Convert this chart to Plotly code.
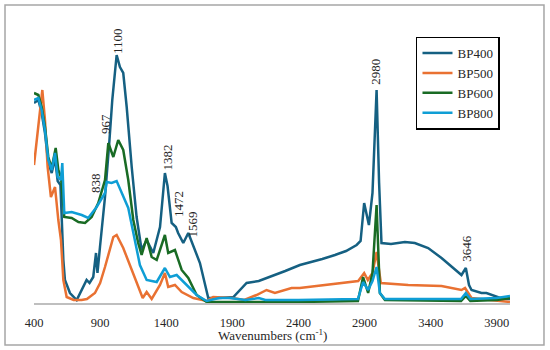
import plotly.graph_objects as go

# ---- data (heights in arbitrary absorbance units) ----
bp400_x = [400, 433, 458, 483, 508, 534, 559, 579, 600, 609, 622, 634, 672, 723, 761, 798, 820, 848, 869, 880, 899,
           937, 967, 992, 1025, 1050, 1075, 1101, 1139, 1176, 1214, 1252, 1302, 1353, 1390, 1410, 1441, 1473, 1490,
           1529, 1567, 1592, 1655, 1718, 1800, 1908, 2008, 2100, 2184, 2222, 2300, 2411, 2474, 2580, 2676, 2760, 2840,
           2870, 2897, 2933, 2960, 2991, 3010, 3028, 3100, 3205, 3280, 3381, 3482, 3583, 3633, 3666, 3690, 3709,
           3784, 3822, 3900, 3948, 4000]
bp400_y = [200, 203, 190, 170, 140, 130, 145, 122, 118, 86, 43, 23, 10, 3, 13, 23, 20, 26, 50, 30, 56,
           106, 156, 203, 248, 236, 230, 196, 136, 86, 53, 63, 50, 76, 130, 117, 80, 76, 70,
           60, 70, 61, 40, 5, 5, 6, 20, 22, 26, 28, 32, 38, 40, 44, 48, 52, 58,
           62, 100, 78, 110, 213, 120, 60, 59, 61, 60, 55, 45, 33, 28, 35, 18, 13,
           10, 10, 6, 4, 4]

bp500_x = [400, 463, 483, 503, 528, 559, 584, 604, 622, 647, 700, 760, 800, 861, 900, 937, 1000, 1025, 1075, 1126,
           1176, 1222, 1252, 1290, 1353, 1390, 1415, 1466, 1517, 1605, 1706, 1755, 1900, 1990, 2083, 2159, 2222,
           2348, 2410, 2600, 2852, 2897, 2925, 2960, 2991, 3023, 3230, 3482, 3633, 3660, 3709, 3850, 4000]
bp500_y = [138, 213, 183, 136, 106, 116, 83, 63, 23, 6, 3, 3, 4, 10, 20, 36, 66, 68, 55, 38,
           21, 5, 11, 4, 18, 30, 16, 18, 11, 5, 2, 6, 5, 3, 8, 13, 10,
           15, 15, 18, 22, 30, 23, 30, 51, 20, 18, 17, 13, 15, 5, 3, 1]

bp600_x = [400, 433, 458, 483, 508, 534, 564, 584, 604, 629, 685, 736, 786, 836, 886, 937, 962, 1000, 1037, 1075,
           1113, 1151, 1188, 1214, 1252, 1290, 1328, 1390, 1415, 1466, 1517, 1567, 1630, 1706, 1900, 2400, 2850,
           2889, 2927, 2960, 2991, 3016, 3054, 3400, 3630, 3666, 3700, 3900, 4000]
bp600_y = [210, 208, 196, 176, 146, 135, 155, 133, 126, 86, 85, 81, 80, 86, 100, 123, 160, 146, 163, 153,
           123, 83, 60, 48, 65, 46, 43, 68, 50, 53, 33, 25, 8, 1, 1, 1, 2,
           26, 10, 30, 98, 10, 3, 2, 2, 7, 2, 3, 5]

bp800_x = [400, 433, 458, 483, 508, 534, 559, 579, 604, 614, 629, 685, 761, 810, 874, 937, 950, 987, 1025, 1063,
           1113, 1150, 1201, 1252, 1328, 1390, 1428, 1479, 1554, 1630, 1706, 1800, 1880, 2000, 2100, 2150, 2400,
           2850, 2889, 2927, 2960, 2991, 3016, 3054, 3400, 3630, 3666, 3700, 3900, 4000]
bp800_y = [203, 205, 193, 173, 143, 133, 150, 126, 123, 140, 90, 91, 88, 85, 96, 110, 121, 120, 122, 111,
           95, 71, 38, 23, 21, 35, 26, 28, 18, 8, 2, 5, 5, 3, 5, 3, 3,
           4, 21, 13, 22, 36, 10, 4, 4, 4, 10, 4, 5, 7]

peak_labels = ["838", "967", "1100", "1382", "1472", "1569", "2980", "3646"]
label_x = [861, 937, 1027, 1403, 1489, 1592, 2978, 3666]
label_y = [120, 179, 262, 145, 99, 78, 231, 55]

tick_vals = [400, 900, 1400, 1900, 2400, 2900, 3400, 3900]

series = [
    ("BP400", bp400_x, bp400_y, "#156082"),
    ("BP500", bp500_x, bp500_y, "#E97132"),
    ("BP600", bp600_x, bp600_y, "#196B24"),
    ("BP800", bp800_x, bp800_y, "#0F9ED5"),
]

FONT = "Liberation Serif"

fig = go.Figure()
for name, xs, ys, col in series:
    fig.add_trace(go.Scatter(x=xs, y=ys, name=name, mode="lines",
                             line=dict(color=col, width=2.5)))

annotations = []
for t, x, y in zip(peak_labels, label_x, label_y):
    annotations.append(dict(x=x, y=y, xref="x", yref="y", text=t, showarrow=False,
                            textangle=-90, xanchor="center", yanchor="middle",
                            font=dict(family=FONT, size=13, color="#262626")))
annotations.append(dict(x=0.5, y=-0.111, xref="paper", yref="paper",
                        text="Wavenumbers (cm<sup>-1</sup>)", showarrow=False,
                        xanchor="center", yanchor="middle",
                        font=dict(family=FONT, size=13, color="#262626")))

fig.update_layout(
    width=550, height=350,
    margin=dict(l=34, r=40, t=15, b=47),
    paper_bgcolor="white", plot_bgcolor="white",
    showlegend=True,
    legend=dict(x=0.8025, y=0.925, xanchor="left", yanchor="top",
                bgcolor="white", bordercolor="black", borderwidth=1.5,
                font=dict(family=FONT, size=13, color="#262626"),
                itemwidth=30, tracegroupgap=0),
    annotations=annotations,
    shapes=[dict(type="rect", xref="paper", yref="paper",
                 x0=-0.0609, x1=1.0714, y0=-0.1458, y1=1.0347,
                 line=dict(color="#A6A6A6", width=1.5), fillcolor="rgba(0,0,0,0)", layer="above")],
)
fig.update_xaxes(range=[400, 4000], tickvals=tick_vals, ticktext=[str(v) for v in tick_vals],
                 showgrid=False, zeroline=False, showline=True, linecolor="#BFBFBF", linewidth=1.5,
                 ticks="outside", ticklen=7, tickcolor="rgba(0,0,0,0)",
                 tickfont=dict(family=FONT, size=12.5, color="#262626"))
fig.update_yaxes(range=[0, 288], visible=False, showgrid=False, zeroline=False)

fig.write_html("out.html", config={"displayModeBar": False},
               post_script="document.body.style.margin='0';")
